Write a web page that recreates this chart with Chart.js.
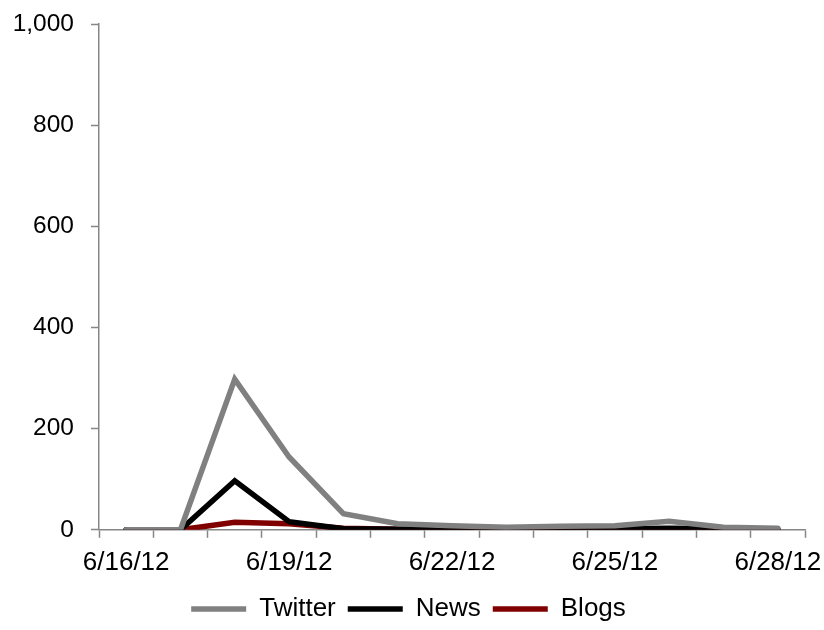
<!DOCTYPE html>
<html><head><meta charset="utf-8">
<script src="https://cdn.jsdelivr.net/npm/chart.js@4/dist/chart.umd.min.js"></script>
<style>html,body{margin:0;padding:0;background:#fff}#wrap{width:824px;height:630px}</style>
</head><body><div id="wrap"><canvas id="c" width="824" height="630"></canvas></div>
<script>
const categories = ["6/16/12","6/17/12","6/18/12","6/19/12","6/20/12","6/21/12","6/22/12","6/23/12","6/24/12","6/25/12","6/26/12","6/27/12","6/28/12"];
const twitter = [0, 0, 298, 144, 32, 12, 8, 5, 7, 8, 17, 5, 3];
const news = [0, 0, 97, 16, 2, 1, 1, 1, 1, 2, 3, 2, 1];
const blogs = [0, 0, 15, 12, 3, 1, 1, 1, 1, 1, 2, 2, 0];
const yTicks = [0, 200, 400, 600, 800, 1000];

Chart.defaults.font.family = "'Liberation Sans', Arial, sans-serif";
Chart.defaults.font.size = 25;
Chart.defaults.color = '#000';
const axisGray = '#868686';
new Chart(document.getElementById('c'), {
  type: 'line',
  data: {
    labels: categories,
    datasets: [
      {label: 'Twitter', data: twitter, borderColor: '#808080', backgroundColor: '#808080', borderWidth: 5.5, pointRadius: 0, tension: 0, borderCapStyle: 'round', pointStyle: 'line'},
      {label: 'News', data: news, borderColor: '#000000', backgroundColor: '#000000', borderWidth: 5.5, pointRadius: 0, tension: 0, borderCapStyle: 'round', pointStyle: 'line'},
      {label: 'Blogs', data: blogs, borderColor: '#800000', backgroundColor: '#800000', borderWidth: 5.5, pointRadius: 0, tension: 0, borderCapStyle: 'round', pointStyle: 'line'}
    ]
  },
  options: {
    responsive: false,
    animation: false,
    layout: {padding: {left: 12, right: 19, top: 24, bottom: -2}},
    plugins: {
      legend: {
        position: 'bottom',
        labels: {color: '#000', usePointStyle: true, pointStyleWidth: 55, padding: 12, font: {size: 26}}
      },
      tooltip: {enabled: false}
    },
    scales: {
      x: {
        offset: true,
        afterFit: function(s){ s.paddingLeft = 0; s.paddingRight = 0; s.height = s.height - 3; },
        grid: {offset: true, drawOnChartArea: false, color: axisGray, tickLength: 8, tickWidth: 1.5},
        border: {color: axisGray, width: 1.5},
        ticks: {color: '#000', autoSkip: false, maxRotation: 0, padding: 9, font: {size: 26},
          callback: function(v, i){ return i % 3 === 0 ? categories[i] : ''; }}
      },
      y: {
        min: 0, max: 1000,
        afterBuildTicks: function(ax){ ax.ticks = yTicks.map(v => ({value: v})); },
        afterFit: function(s){ s.width = 87; s.paddingTop = 0; s.paddingBottom = 0; },
        grid: {drawOnChartArea: false, color: axisGray, tickLength: 8, tickWidth: 1.5},
        border: {color: axisGray, width: 1.5},
        ticks: {color: '#000', padding: 17, font: {size: 24.5},
          callback: function(v){ return v.toLocaleString('en-US'); }}
      }
    }
  }
});
</script></body></html>
